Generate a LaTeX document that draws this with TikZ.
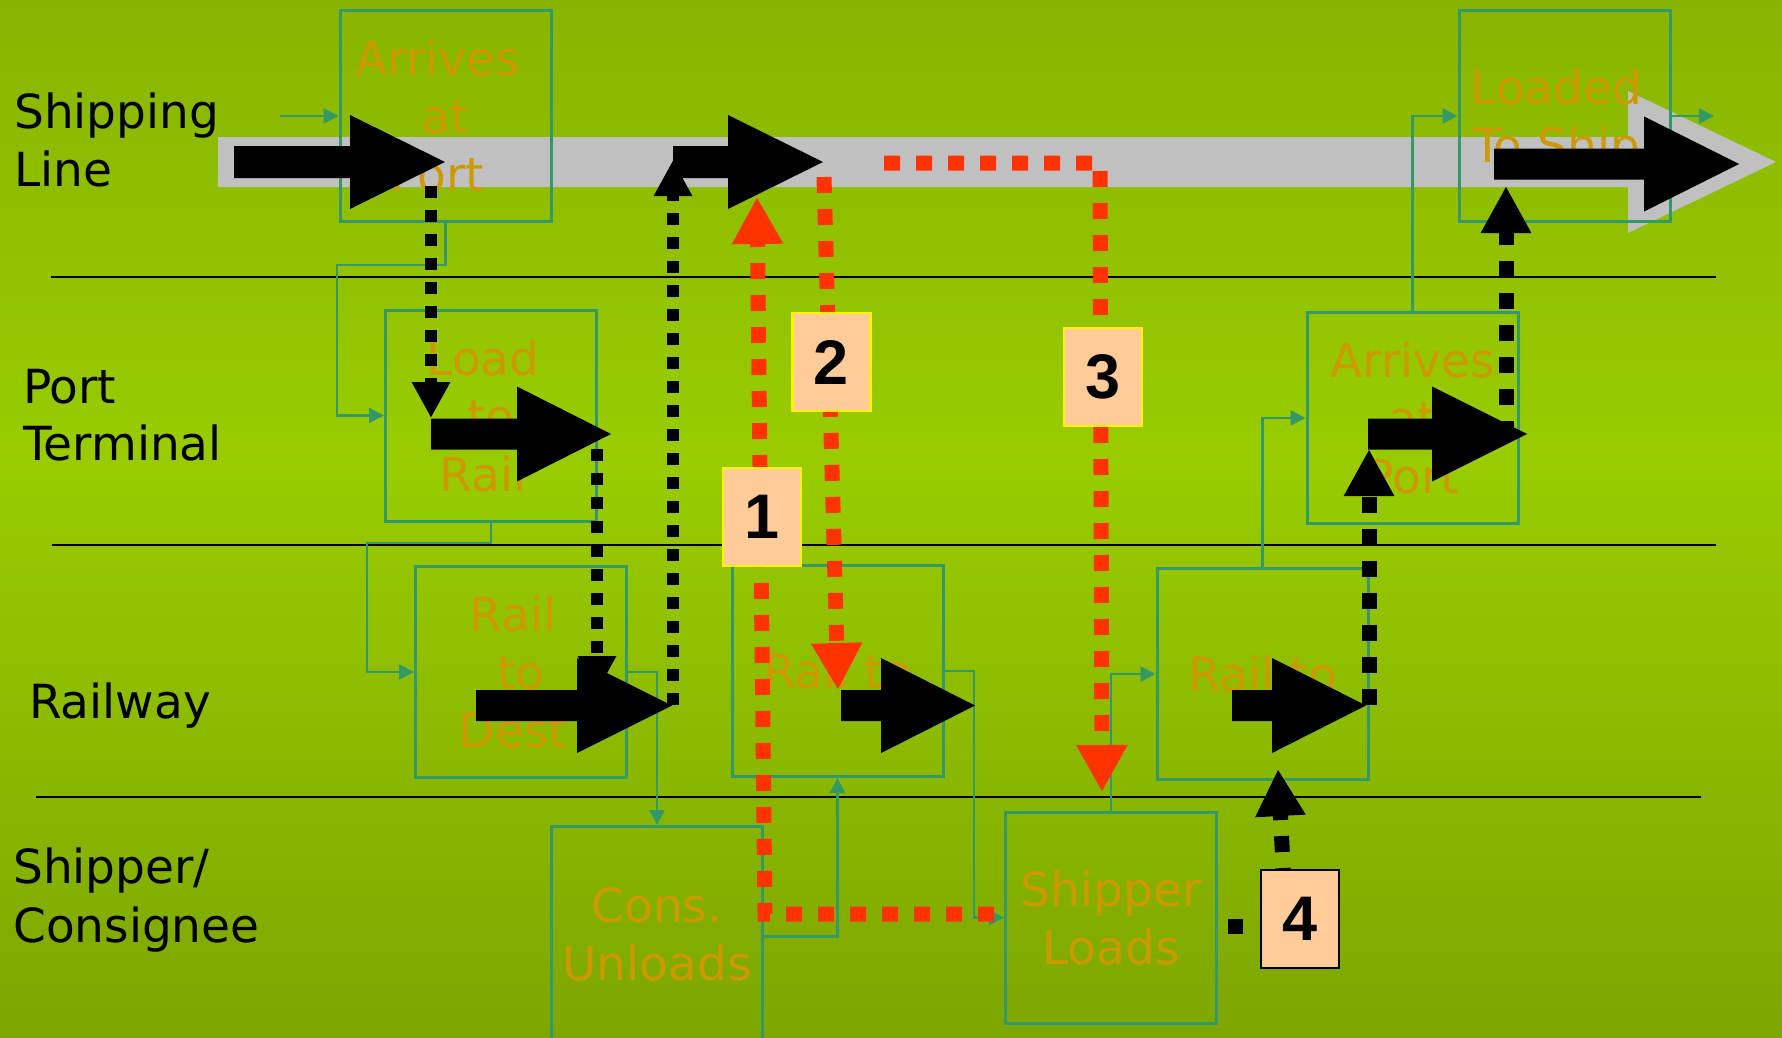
\documentclass[tikz,border=0pt]{standalone}
\usepackage{fontspec}
\setmainfont{DejaVu Sans}
\newfontfamily\digitfont{Liberation Sans}
\usetikzlibrary{arrows.meta}
\definecolor{bgtop}{HTML}{88B400}
\definecolor{bgmid}{HTML}{99CC00}
\definecolor{bgbot}{HTML}{7DA600}
\definecolor{tealc}{HTML}{339966}
\definecolor{boxtxt}{HTML}{CC9900}
\definecolor{redd}{HTML}{FF3300}
\definecolor{peach}{HTML}{FFCC99}
\definecolor{bandgray}{HTML}{C0C0C0}
\newcommand{\bigarr}[6]{% x0, x1 (head base), x2 (tip), yc, half shaft, half head
  \fill[black] (#1,{#4-#5}) -- (#2,{#4-#5}) -- (#2,{#4-#6}) -- (#3,#4) -- (#2,{#4+#6}) -- (#2,{#4+#5}) -- (#1,{#4+#5}) -- cycle;}
\newcommand{\lsh}[1]{#1\hspace*{16pt}}
\tikzset{
  procbox/.style={draw=tealc, line width=3pt, minimum width=211pt, minimum height=211pt,
    inner sep=0pt, align=center, text=boxtxt, font=\fontsize{47}{58}\selectfont},
  lanelabel/.style={anchor=base west, inner sep=0pt, font=\fontsize{47}{58}\selectfont, text=black},
  flow/.style={draw=tealc, line width=2.5pt, -{Triangle[length=15pt,width=15pt]}},
  numbox/.style={fill=peach, draw=yellow, line width=2.5pt, minimum width=78pt, minimum height=98pt,
    inner sep=0pt, font=\digitfont\bfseries\fontsize{63}{63}\selectfont},
  thindots/.style={draw=black, line width=12pt, dash pattern=on 12pt off 12pt, -{Triangle[length=36pt,width=36pt]}},
  thickdots/.style={draw=black, line width=15pt, dash pattern=on 16pt off 16pt, -{Triangle[length=47pt,width=47pt]}},
  reddots/.style={draw=redd, line width=15pt, dash pattern=on 16pt off 16pt, -{Triangle[length=47pt,width=48pt]}},
  divider/.style={draw=black, line width=2.5pt}
}
\begin{document}
\begin{tikzpicture}[x=1pt,y=-1pt]
\useasboundingbox (0,0) rectangle (1782,1037);
% background
\shade[top color=bgtop, bottom color=bgmid] (0,0) rectangle (1782,460);
\shade[top color=bgmid, bottom color=bgbot] (0,459) rectangle (1782,1037);
% grey band arrow
\fill[bandgray] (218,137) -- (1628,137) -- (1628,91) -- (1776,162) -- (1628,233) -- (1628,187) -- (218,187) -- cycle;
% lane dividers
\draw[divider] (51,277) -- (1716,277);
\draw[divider] (52,545) -- (1716,545);
\draw[divider] (36,797) -- (1701,797);
% lane labels
\node[lanelabel] (lShipA) at (14,128) {Shipping};
\node[lanelabel] (lShipB) at (14,186) {Line};
\node[lanelabel] (lPortA) at (23,403) {Port};
\node[lanelabel] (lPortB) at (23,460) {Terminal};
\node[lanelabel] (lRail) at (29,718) {Railway};
\node[lanelabel] (lShprA) at (13,883) {Shipper/};
\node[lanelabel] (lShprB) at (13,942) {Consignee};
% process boxes
\node[procbox] (arrShip) at (445.5,116) {\lsh{Arrives}\\\lsh{at}\\\lsh{Port}};
\node[procbox] (loadRail) at (491,415.5) {\lsh{Load}\\\lsh{to}\\\lsh{Rail}};
\node[procbox] (railDest) at (521,672) {\lsh{Rail}\\\lsh{to}\\\lsh{Dest}};
\node[procbox] (railToA) at (837.5,671) {Rail to};
\node[procbox] (arrPort) at (1412.5,418) {Arrives\\at\\Port};
\node[procbox] (railToB) at (1262.5,674) {Rail to};
\node[procbox] (loadShip) at (1564.5,116) {\lsh{Loaded}\\\lsh{To Shi\smash{p}}};
\node[procbox, minimum height=216pt] (consUnl) at (657,934.5) {Cons.\\Unloads};
\node[procbox] (shipLoads) at (1111,917.5) {Shipper\\Loads};
% teal flow connectors
\coordinate (inStart) at (280,116);
\coordinate (outEnd) at (1714,116);
\draw[flow] (inStart) -- (arrShip.west);
\draw[flow] (arrShip.south) |- (337,265) |- (loadRail.west);
\draw[flow] (loadRail.south) |- (367,543) |- (railDest.west);
\draw[flow] (railDest.east) -| (consUnl.north);
\draw[flow] ([yshift=-2pt]consUnl.east) -| (railToA.south);
\draw[flow] (railToA.east) -| (974,800) |- (shipLoads.west);
\draw[flow] (shipLoads.north) |- (railToB.west);
\draw[flow] (railToB.north) |- (arrPort.west);
\draw[flow] (arrPort.north) |- (loadShip.west);
\draw[flow] (loadShip.east) -- (outEnd);
% black block arrows
\bigarr{234}{350}{445}{162}{16}{47}
\bigarr{673}{728}{823}{162}{16}{47}
\bigarr{431}{517}{611}{434}{15.5}{47.5}
\bigarr{476}{577}{672}{705.5}{15.5}{47.5}
\bigarr{841}{881}{975}{705.5}{15.5}{47.5}
\bigarr{1232}{1272}{1366}{705.5}{15.5}{47.5}
\bigarr{1368}{1432}{1527}{434}{15.5}{47.5}
\bigarr{1494}{1644}{1739}{164}{15.5}{47.5}
% black dotted connectors
\coordinate (dAs) at (431,186);   \coordinate (dAe) at (431,418);
\coordinate (dBs) at (597,449);   \coordinate (dBe) at (597,692);
\coordinate (dCs) at (673,705);   \coordinate (dCe) at (673,160);
\coordinate (dDs) at (1369,705);  \coordinate (dDe) at (1369,449);
\coordinate (dEs) at (1506,437);  \coordinate (dEe) at (1506,186);
\coordinate (dFs) at (1284,884);  \coordinate (dFe) at (1278,769);
\coordinate (dGs) at (1228,926);  \coordinate (dGe) at (1265,926);
\draw[thindots] (dAs) -- (dAe);
\draw[thindots] (dBs) -- (dBe);
\draw[thindots] (dCs) -- (dCe);
\draw[thickdots] (dDs) -- (dDe);
\draw[thickdots] (dEs) -- (dEe);
\draw[thickdots] (dFs) -- (dFe);
\draw[draw=black, line width=15pt, dash pattern=on 15pt off 17pt] (dGs) -- (dGe);
% red dotted connectors
\coordinate (rAs) at (994,914);
\coordinate (rAc) at (765,914);   \coordinate (rAe) at (757,197);
\coordinate (rBs) at (824,177);   \coordinate (rBe) at (838,690);
\coordinate (rCs) at (884,163);   \coordinate (rCc) at (1100,163);  \coordinate (rCe) at (1102,792);
\draw[reddots] (rAs) -- (rAc) -- (rAe);
\draw[reddots] (rBs) -- (rBe);
\draw[reddots] (rCs) -- (rCc) -- (rCe);
% number labels
\node[numbox] (numA) at (762,517) {1};
\node[numbox] (numB) at (831.5,362) {2};
\node[numbox] (numC) at (1103,377) {3};
\node[numbox, draw=black] (numD) at (1300,919) {4};
\end{tikzpicture}
\end{document}
